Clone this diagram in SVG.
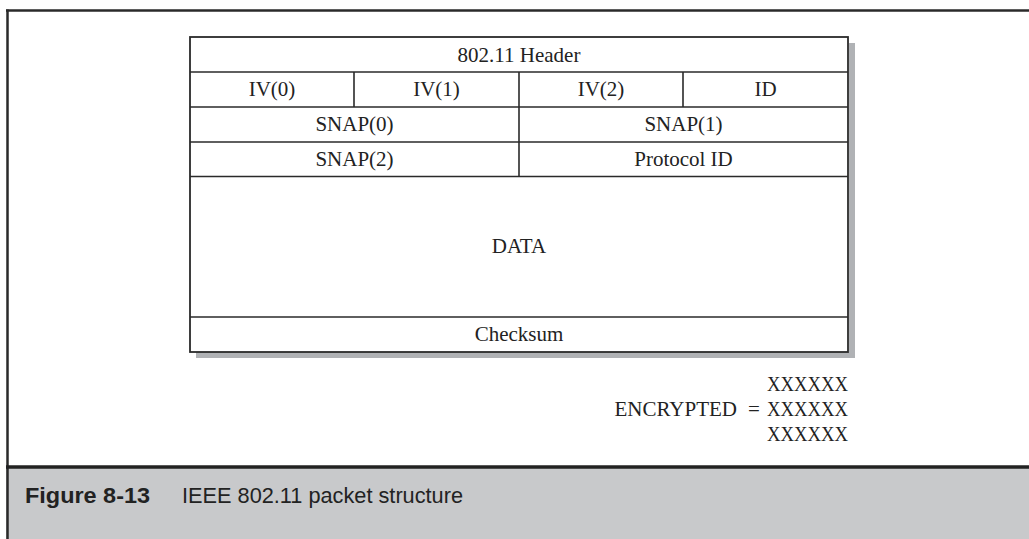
<svg xmlns="http://www.w3.org/2000/svg" width="1029" height="539" viewBox="0 0 1029 539">
<style>
.cell{fill:#fff;stroke:#2a2a2a;stroke-width:1.8}
.ln{stroke:#2a2a2a;stroke-width:1.6}
.t{font-family:"Liberation Serif","Times New Roman",serif;font-size:21px;fill:#222;text-anchor:middle}
.e{font-family:"Liberation Serif","Times New Roman",serif;font-size:21px;fill:#222;text-anchor:end}
.cap{font-family:"Liberation Sans",Arial,sans-serif;font-size:22px;fill:#222}
</style>
<rect width="1029" height="539" fill="#fff"/>
<g id="frame">
<rect x="6" y="467" width="1023" height="72" fill="#c8c9cb"/>
<line x1="6" y1="10.5" x2="1029" y2="10.5" stroke="#2a2a2a" stroke-width="2.5"/>
<line x1="7.5" y1="9.5" x2="7.5" y2="539" stroke="#2a2a2a" stroke-width="2.5"/>
<line x1="6" y1="467" x2="1029" y2="467" stroke="#222" stroke-width="3.5"/>
</g>
<g id="shadow" fill="#b0b2b5">
<rect x="849" y="43" width="6" height="315"/>
<rect x="196" y="352" width="659" height="6"/>
</g>
<g id="table">
<rect class="cell" x="190" y="37" width="658" height="315"/>
</g>
<g id="connectors">
<line class="ln" x1="190" y1="72" x2="848" y2="72"/>
<line class="ln" x1="190" y1="107" x2="848" y2="107"/>
<line class="ln" x1="190" y1="142" x2="848" y2="142"/>
<line class="ln" x1="190" y1="176.5" x2="848" y2="176.5"/>
<line class="ln" x1="190" y1="317" x2="848" y2="317"/>
<line class="ln" x1="354" y1="72" x2="354" y2="107"/>
<line class="ln" x1="519" y1="72" x2="519" y2="176.5"/>
<line class="ln" x1="683" y1="72" x2="683" y2="107"/>
</g>
<g id="header"><text class="t" x="519" y="61.5">802.11 Header</text></g>
<g id="iv0"><text class="t" x="272" y="96">IV(0)</text></g>
<g id="iv1"><text class="t" x="436.5" y="96">IV(1)</text></g>
<g id="iv2"><text class="t" x="601" y="96">IV(2)</text></g>
<g id="id"><text class="t" x="765.5" y="96">ID</text></g>
<g id="snap0"><text class="t" x="354.5" y="131">SNAP(0)</text></g>
<g id="snap1"><text class="t" x="683.5" y="131">SNAP(1)</text></g>
<g id="snap2"><text class="t" x="354.5" y="165.5">SNAP(2)</text></g>
<g id="protocol"><text class="t" x="683.5" y="165.5">Protocol ID</text></g>
<g id="data"><text class="t" x="519" y="253">DATA</text></g>
<g id="checksum"><text class="t" x="519" y="341">Checksum</text></g>
<g id="legend">
<text class="e" x="848" y="391" textLength="81" lengthAdjust="spacingAndGlyphs">XXXXXX</text>
<text class="e" x="737" y="416">ENCRYPTED</text>
<text class="t" x="754" y="416">=</text>
<text class="e" x="848" y="416" textLength="81" lengthAdjust="spacingAndGlyphs">XXXXXX</text>
<text class="e" x="848" y="441" textLength="81" lengthAdjust="spacingAndGlyphs">XXXXXX</text>
</g>
<g id="caption">
<text class="cap" x="25" y="503" font-weight="bold" textLength="125" lengthAdjust="spacingAndGlyphs">Figure 8-13</text>
<text class="cap" x="182" y="503" textLength="281" lengthAdjust="spacingAndGlyphs">IEEE 802.11 packet structure</text>
</g>
</svg>
